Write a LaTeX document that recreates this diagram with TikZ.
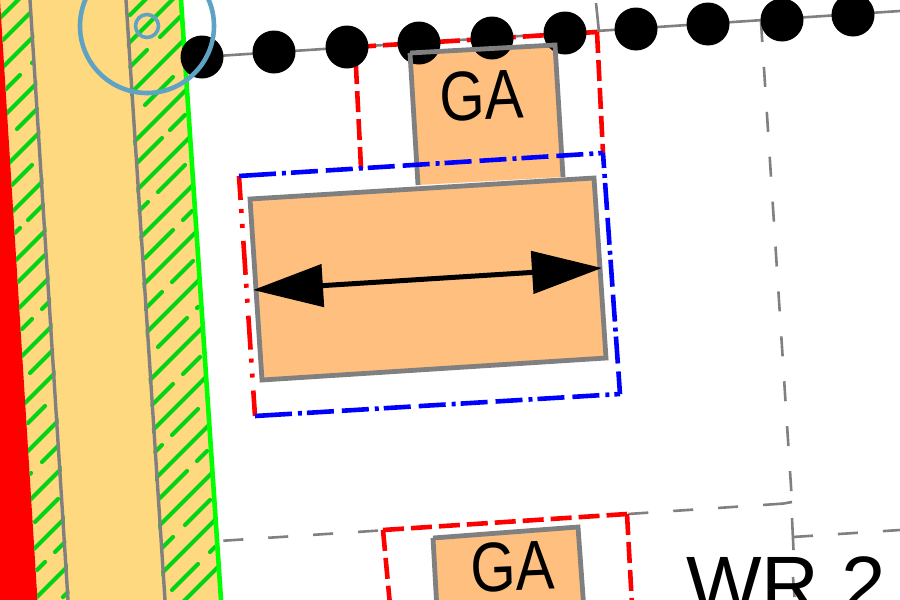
\documentclass[tikz,border=0pt]{standalone}
\usepackage{fontspec}
\setmainfont{Liberation Sans}
\usetikzlibrary{arrows.meta,calc}
\definecolor{stripyellow}{HTML}{FFD97F}
\definecolor{houseorange}{HTML}{FFC07F}
\definecolor{edgegray}{HTML}{808080}
\definecolor{hatchgreen}{HTML}{00D414}
\definecolor{ringblue}{HTML}{5FA3C4}
\tikzset{
  hatchline/.style={draw=hatchgreen,line width=4.2pt,line cap=round},
  stripline/.style={draw=edgegray,line width=3.4pt},
  buildingedge/.style={draw=edgegray,line width=4.8pt,line join=miter},
  buildingfill/.style={fill=houseorange},
  thingray/.style={draw=edgegray,line width=2.6pt},
  plotgray/.style={draw=edgegray,line width=2.6pt,dash pattern=on 20pt off 25pt},
  reddash/.style={draw=red,line width=4.6pt,dash pattern=on 21pt off 7pt},
  bluepat/.style={draw=blue,line width=4.6pt,dash pattern=on 27pt off 6pt on 4pt off 5pt on 27pt off 8pt},
  bluesolid/.style={draw=blue,line width=4.6pt},
  redpat/.style={draw=red,line width=4.6pt,dash pattern=on 34pt off 9pt on 4pt off 11pt on 4pt off 13pt,dash phase=10pt},
  borderdot/.style={circle,fill=black,minimum size=43pt,inner sep=0pt},
  ringline/.style={draw=ringblue,line width=4.6pt},
  galabel/.style={font=\fontsize{70}{70}\selectfont,inner sep=0pt,transform shape,xscale=.83,rotate=2},
  wrlabel/.style={font=\fontsize{80}{80}\selectfont,inner sep=0pt,anchor=base west}
}
\newcommand{\hatchseg}[3]{\draw[hatchline] (#2,{#1-#2}) -- (#3,{#1-#3});}
\begin{document}
\begin{tikzpicture}[x=1pt,y=-1pt]
\clip (0,0) rectangle (900,600);
\fill[white] (0,0) rectangle (900,600);
% road strip
\fill[stripyellow] (-1,0) -- (181,0) -- (221,600) -- (37.5,600) -- cycle;
\fill[red] (-2,0) -- (0,0) -- (37.5,600) -- (-2,600) -- cycle;
% hatch left strip
\begin{scope}
\clip (0,0) -- (32,0) -- (70,600) -- (37.5,600) -- cycle;
\foreach \c in {18,70,120,172,224,276,327,378,428,479,530,583,634}{\hatchseg{\c}{-5}{80}}
\hatchseg{43}{3}{30}
\hatchseg{95}{5}{20}\hatchseg{95}{32}{33}
\hatchseg{146}{17}{37}
\hatchseg{197}{12}{32}
\hatchseg{248}{15}{20}\hatchseg{248}{28}{43}
\hatchseg{300}{18}{45}
\hatchseg{351}{22}{32}\hatchseg{351}{42}{52}
\hatchseg{403}{30}{53}
\hatchseg{451}{28}{45}
\hatchseg{504}{30}{31}\hatchseg{504}{42}{58}
\hatchseg{557}{35}{58}
\hatchseg{607}{37}{45}\hatchseg{607}{55}{65}
\hatchseg{660}{63}{68}
\end{scope}
% hatch right strip
\begin{scope}
\clip (124,0) -- (181,0) -- (221,600) -- (163,600) -- cycle;
\foreach \c in {172,224,276,327,378,428,479,530,583,634,685,735,785}{\hatchseg{\c}{120}{225}}
\hatchseg{145}{130}{148}
\hatchseg{197}{130}{147}\hatchseg{197}{160}{180}
\hatchseg{250}{145}{173}
\hatchseg{300}{137}{162}\hatchseg{300}{170}{185}
\hatchseg{350}{138}{148}\hatchseg{350}{158}{185}
\hatchseg{403}{145}{173}\hatchseg{403}{183}{192}
\hatchseg{454}{145}{162}\hatchseg{454}{172}{193}
\hatchseg{505}{158}{187}\hatchseg{505}{197}{198}
\hatchseg{557}{152}{173}\hatchseg{557}{183}{200}
\hatchseg{607}{155}{162}\hatchseg{607}{172}{198}
\hatchseg{658}{160}{187}\hatchseg{658}{197}{207}
\hatchseg{710}{162}{173}\hatchseg{710}{185}{210}
\hatchseg{762}{172}{198}\hatchseg{762}{210}{215}
\end{scope}
% strip edges
\draw[stripline] (30,0) -- (68,600);
\draw[stripline] (126,0) -- (165,600);
\draw[draw=green,line width=4.6pt] (181,0) -- (221,600);
% plot lines
\coordinate (bendTop) at (761,22);
\coordinate (bendCorner) at (792,502);
\draw[plotgray] (bendTop) -- (bendCorner);
\coordinate (hzA) at (783,503.6);
\coordinate (hzB) at (628,514);
\coordinate (hzC) at (378,530.6);
\coordinate (hzD) at (219,541);
\draw[thingray] (bendCorner) -- (hzA);
\draw[plotgray] (hzA) -- (hzB);
\draw[plotgray] (hzC) -- (hzD);
\coordinate (lowA) at (792,518);
\coordinate (lowB) at (793.5,550);
\coordinate (lowC) at (793,577);
\coordinate (lowD) at (794.5,597);
\draw[thingray] (lowA) -- (lowB);
\draw[thingray] (lowC) -- (lowD);
\coordinate (tickA) at (793,537);
\coordinate (tickB) at (900,530);
\draw[plotgray] (tickA) -- (tickB);
\coordinate (stubA) at (596,3);
\coordinate (stubB) at (599,32);
\draw[thingray] (stubA) -- (stubB);
% boundary line
\coordinate (lineA) at (202,57);
\coordinate (lineB) at (900,11);
\draw[thingray] (lineA) -- (lineB);
% garage fills
\fill[buildingfill] (410,53) -- (555,45) -- (563,177) -- (418,185) -- cycle;
\fill[buildingfill] (433,538) -- (578,527) -- (584,610) -- (437,610) -- cycle;
% red building lines
\coordinate (rTL) at (355,47);
\coordinate (rTR) at (597,32);
\coordinate (rBR) at (603,153);
\coordinate (rBL) at (361,168);
\draw[reddash] (rBL) -- (rTL);
\draw[reddash] (rTL) -- (rTR);
\draw[reddash] (rTR) -- (rBR);
\coordinate (sTL) at (383,530);
\coordinate (sTR) at (627,514);
\coordinate (sBR) at (632,605);
\coordinate (sBL) at (390,605);
\draw[reddash] (sTL) -- (sTR);
\draw[reddash] (sTL) -- (sBL);
\draw[reddash] (sTR) -- (sBR);
% dots
\foreach \n/\p in {a/{202,57},b/{274,52},c/{347,47},d/{419,43},e/{492,38},f/{565,33},g/{636,29},h/{708,24},i/{782,20},j/{853,15}}{
  \node[borderdot] (dot\n) at (\p) {};
}
% garage outlines
\draw[buildingedge] (410,53) -- (555,45) -- (563,177);
\draw[buildingedge] (410,53) -- (418,185);
\draw[buildingedge] (433,538) -- (578,527) -- (584,610);
\draw[buildingedge] (433,538) -- (437,610);
% blue / red envelope
\coordinate (bTL) at (239,176);
\coordinate (bTR) at (603,153);
\coordinate (bBR) at (620,394);
\coordinate (bBL) at (255,416);
\coordinate (bT1) at ($(bTL)!10pt!(bTR)$);
\coordinate (bB1) at ($(bBL)!10pt!(bBR)$);
\draw[redpat] (bTL) -- (bBL);
\draw[bluesolid] (bTL) -- (bT1);
\draw[bluesolid] (bBL) -- (bB1);
\draw[bluepat] (bT1) -- (bTR);
\draw[bluepat] (bB1) -- (bBR);
\draw[bluepat,dash phase=12pt] (bTR) -- (bBR);
% house
\draw[buildingedge,buildingfill] (250,199) -- (594,178) -- (606,358) -- (262,380) -- cycle;
\coordinate (arrowL) at (253,290);
\coordinate (arrowR) at (602,268);
\draw[line width=5pt,{Triangle[length=70pt,width=42pt]}-{Triangle[length=70pt,width=42pt]}] (arrowL) -- (arrowR);
% circles
\coordinate (ringC) at (147,26);
\node[ringline,circle,minimum size=134pt,inner sep=0pt] (ringBig) at (ringC) {};
\node[ringline,circle,minimum size=23pt,inner sep=0pt,line width=3.6pt] (ringSmall) at (ringC) {};
% labels
\node[galabel] (gaOne) at (482,96) {GA};
\node[galabel] (gaTwo) at (513,567) {GA};
\node[wrlabel] (wrTwo) at (686,612) {WR 2};
\end{tikzpicture}
\end{document}
